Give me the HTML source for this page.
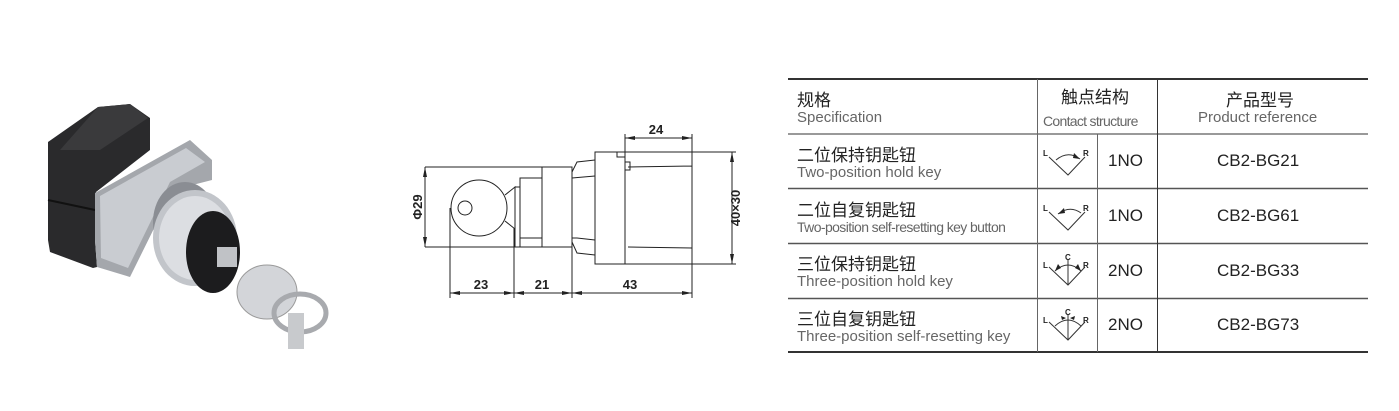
<!DOCTYPE html>
<html><head><meta charset="utf-8"><style>
body{margin:0;width:1399px;height:411px;background:#fff;overflow:hidden;position:relative;font-family:"Liberation Sans","Noto Sans CJK SC",sans-serif}
.t{position:absolute;white-space:nowrap}
.cn{font-size:17px;color:#222}
.en{font-size:15px;color:#666}
</style></head><body>
<svg width="1399" height="411" style="position:absolute;left:0;top:0">
<!-- photo -->
<polygon points="48,142 98,107 130,104 150,118 150,150 96,192 95,240 97,267 93,268 50,252 48,240" fill="#2a2a2c"/>
<polygon points="98,107 130,104 148,118 100,150 60,150" fill="#3a3a3c"/>
<line x1="48" y1="200" x2="95" y2="210" stroke="#111" stroke-width="2"/>
<polygon points="95,193 190,140 212,160 212,180 173,190 130,277 97,267 95,240" fill="#a4a7ac"/>
<polygon points="100,196 186,148 205,162 170,182 128,268 101,258" fill="#c9ccd1"/>
<ellipse cx="185" cy="222" rx="32" ry="40" fill="#8a8d93"/>
<ellipse cx="195" cy="238" rx="42" ry="48" fill="#c2c5ca"/>
<ellipse cx="195" cy="238" rx="36" ry="42" fill="#dcdee2"/>
<ellipse cx="213" cy="252" rx="27" ry="41" fill="#1c1c1e"/>
<rect x="217" y="247" width="20" height="20" fill="#c0c2c6"/>
<ellipse cx="267" cy="292" rx="30" ry="27" fill="#d3d5d9" stroke="#9a9a9a"/>
<ellipse cx="300" cy="313" rx="26" ry="19" fill="none" stroke="#a8aaae" stroke-width="5"/>
<rect x="288" y="313" width="16" height="36" fill="#c8cacd"/>
<!-- drawing -->
<g stroke="#222" stroke-width="1" fill="none">
<line x1="425" y1="167" x2="572" y2="167"/><line x1="425" y1="247" x2="572" y2="247"/>
<circle cx="479" cy="208" r="28"/><circle cx="465" cy="208" r="7"/>
<path d="M505,195 L515,187 L515,229 L505,221"/>
<rect x="515" y="187" width="5" height="60"/><rect x="520" y="178" width="22" height="69"/>
<line x1="520" y1="238" x2="542" y2="238"/>
<rect x="542" y="167" width="30" height="80"/>
<path d="M572,172 L577,162 L595,160 M572,178 L595,176 M572,238 L577,238 L595,240 M572,242 L577,253 L595,255"/>
<rect x="595" y="152" width="30" height="112"/>
<path d="M625,152 L692,152 L692,264 L625,264 M628,167 L692,166 M628,247 L692,248 M617,152 L617,157 L625,157 M625,162 L630,162 L630,170 L625,170"/>
<line x1="425" y1="167" x2="425" y2="247"/>
<line x1="450" y1="208" x2="450" y2="298"/><line x1="514" y1="228" x2="514" y2="298"/><line x1="572" y1="247" x2="572" y2="298"/><line x1="692" y1="264" x2="692" y2="298"/>
<line x1="625" y1="134" x2="625" y2="152"/><line x1="692" y1="134" x2="692" y2="152"/>
<line x1="692" y1="152" x2="736" y2="152"/><line x1="692" y1="264" x2="736" y2="264"/>
<line x1="625" y1="138" x2="692" y2="138"/><line x1="732" y1="152" x2="732" y2="264"/>
<line x1="450" y1="293" x2="692" y2="293"/>
</g>
<g fill="#222">
<polygon points="625,138 635,136 635,140"/><polygon points="692,138 682,136 682,140"/>
<polygon points="732,152 730,162 734,162"/><polygon points="732,264 730,254 734,254"/>
<polygon points="425,167 423,177 427,177"/><polygon points="425,247 423,237 427,237"/>
<polygon points="450,293 460,291 460,295"/><polygon points="514,293 504,291 504,295"/><polygon points="514,293 524,291 524,295"/><polygon points="572,293 562,291 562,295"/><polygon points="572,293 582,291 582,295"/><polygon points="692,293 682,291 682,295"/>
</g>
<g font-family="Liberation Sans,sans-serif" font-size="13" font-weight="bold" fill="#222" text-anchor="middle">
<text x="656" y="134">24</text><text x="481" y="289">23</text><text x="542" y="289">21</text><text x="630" y="289">43</text>
<text transform="translate(740,208) rotate(-90)">40×30</text>
<text transform="translate(422,207) rotate(-90)">Φ29</text>
</g>
<!-- table lines -->
<g stroke="#333" fill="none">
<line x1="788" y1="79" x2="1368" y2="79" stroke-width="2"/>
<line x1="788" y1="134" x2="1368" y2="134"/>
<line x1="788" y1="188.5" x2="1368" y2="188.5" stroke="#555" stroke-width="1.5"/>
<line x1="788" y1="243.5" x2="1368" y2="243.5" stroke="#555" stroke-width="1.5"/>
<line x1="788" y1="298.5" x2="1368" y2="298.5" stroke="#555" stroke-width="1.5"/>
<line x1="788" y1="352" x2="1368" y2="352" stroke-width="2"/>
<line x1="1037.5" y1="79" x2="1037.5" y2="352" stroke="#666"/>
<line x1="1097.5" y1="134" x2="1097.5" y2="352" stroke="#666"/>
<line x1="1157.5" y1="79" x2="1157.5" y2="352"/>
</g>
<g stroke="#333" fill="none" stroke-width="1">
<path d="M1049,157 L1068,175 L1085,157"/><path d="M1056,160 Q1068,150 1080,159"/>
<path d="M1049,212 L1068,230 L1085,212"/><path d="M1058,214 Q1070,205 1081,213"/>
<path d="M1049,267 L1068,285 L1085,267 M1068,285 L1068,260"/><path d="M1055,271 Q1068,259 1081,271"/>
<path d="M1049,322 L1068,340 L1085,322 M1068,340 L1068,315"/><path d="M1055,326 Q1068,314 1081,326"/>
</g>
<g fill="#222">
<polygon points="1080,159 1074,153 1073,158"/><polygon points="1058,214 1064,208 1065,213"/>
<polygon points="1055,271 1058,264 1061,268"/><polygon points="1081,271 1078,264 1075,268"/>
<polygon points="1066,318 1061,316 1062,320"/><polygon points="1070,318 1075,316 1074,320"/>
</g>
<g font-family="Liberation Sans,sans-serif" font-size="8" font-weight="bold" fill="#222">
<text x="1043" y="156">L</text><text x="1083" y="156">R</text>
<text x="1043" y="211">L</text><text x="1083" y="211">R</text>
<text x="1043" y="268">L</text><text x="1083" y="268">R</text><text x="1065" y="260">C</text>
<text x="1043" y="323">L</text><text x="1083" y="323">R</text><text x="1065" y="315">C</text>
</g>
</svg>
<div class="t cn" style="left:797px;top:86px">规格</div>
<div class="t en" style="left:797px;top:109px">Specification</div>
<div class="t cn" style="left:1061px;top:83px">触点结构</div>
<div class="t en" style="left:1043px;top:113px;font-size:14px;letter-spacing:-0.7px">Contact structure</div>
<div class="t cn" style="left:1226px;top:86px">产品型号</div>
<div class="t en" style="left:1198px;top:109px">Product reference</div>

<div class="t cn" style="left:797px;top:141px">二位保持钥匙钮</div>
<div class="t en" style="left:797px;top:164px">Two-position hold key</div>
<div class="t cn" style="left:797px;top:196px">二位自复钥匙钮</div>
<div class="t en" style="left:797px;top:219px;font-size:14px;letter-spacing:-0.6px">Two-position self-resetting key button</div>
<div class="t cn" style="left:797px;top:250px">三位保持钥匙钮</div>
<div class="t en" style="left:797px;top:273px">Three-position hold key</div>
<div class="t cn" style="left:797px;top:305px">三位自复钥匙钮</div>
<div class="t en" style="left:797px;top:328px">Three-position self-resetting key</div>

<div class="t cn" style="left:1108px;top:151px">1NO</div>
<div class="t cn" style="left:1108px;top:206px">1NO</div>
<div class="t cn" style="left:1108px;top:261px">2NO</div>
<div class="t cn" style="left:1108px;top:315px">2NO</div>
<div class="t cn" style="left:1217px;top:151px">CB2-BG21</div>
<div class="t cn" style="left:1217px;top:206px">CB2-BG61</div>
<div class="t cn" style="left:1217px;top:261px">CB2-BG33</div>
<div class="t cn" style="left:1217px;top:315px">CB2-BG73</div>
</body></html>
